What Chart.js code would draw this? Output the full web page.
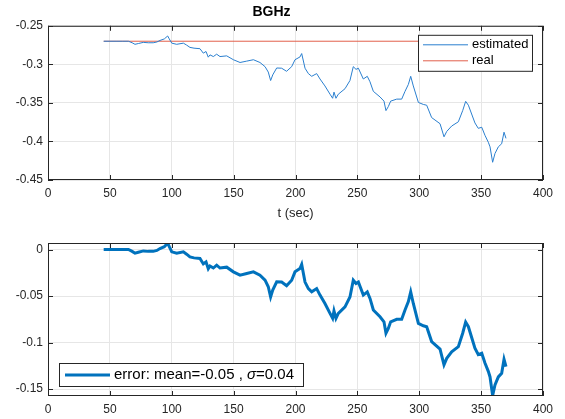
<!DOCTYPE html>
<html>
<head>
<meta charset="utf-8">
<script src="https://cdn.jsdelivr.net/npm/chart.js@4"></script>
<style>
  html, body { margin: 0; padding: 0; background: #fff; }
  #wrap1 { position: absolute; left: 0; top: 0; width: 565px; height: 225px; }
  #wrap2 { position: absolute; left: 0; top: 225px; width: 565px; height: 194px; }
</style>
</head>
<body>
<div id="wrap1"><canvas id="topChart"></canvas></div>
<div id="wrap2"><canvas id="errChart"></canvas></div>
<script>
// time stamps (sec) and the error curve
const tSec = [45, 50, 55, 60, 65, 68, 70.3, 73, 77, 81, 85, 88, 90.5, 94, 96.7, 98, 100, 104, 109.4, 112,
  114.7, 118, 122.8, 125.5, 127.7, 129.5, 130.9, 133.6, 136.3, 139, 144.4, 149.8, 155.2, 160.6, 166, 171.3, 175.4,
  178, 179.9, 181.6, 184.8, 188.8, 192.8, 196.9, 199.6, 203.6, 205, 207.7, 210.4, 213.1, 217.1, 219.8, 223.8,
  227.9, 230, 231.1, 232.7, 234.6, 240, 244, 246.7, 248.9, 250.8, 254.8, 258, 260.2, 262.9, 268.3, 271.5, 273.1,
  275, 276.9, 281.8, 285.8, 288.5, 291.2, 293.1, 295.2, 299.3, 303.3, 306, 310, 316.8, 320, 322.2, 326.2, 331.6,
  335.1, 337.5, 339.7, 345, 347.7, 350.5, 353.1, 355.8, 357.2, 359.3, 361.2, 363.9, 366.6, 368.5, 370.1];
const errVals = [0, 0, 0, 0, 0, -0.002, -0.004, -0.003, -0.0015, -0.002, -0.002, -0.001, 0.001, 0.003, 0.0068, 0.003,
  -0.0025, -0.004, -0.0025, -0.005, -0.008, -0.009, -0.0097, -0.0155, -0.0133, -0.0207, -0.0177, -0.0199, -0.0168,
  -0.0199, -0.019, -0.024, -0.0276, -0.0258, -0.024, -0.0276, -0.033, -0.04, -0.051, -0.0437, -0.0347, -0.035,
  -0.039, -0.033, -0.024, -0.0204, -0.016, -0.035, -0.042, -0.0455, -0.042, -0.049, -0.058, -0.0687, -0.074,
  -0.066, -0.074, -0.0687, -0.0616, -0.051, -0.033, -0.0365, -0.035, -0.049, -0.0455, -0.0526, -0.065, -0.0723,
  -0.0777, -0.09, -0.0848, -0.0777, -0.0751, -0.0751, -0.065, -0.056, -0.0455, -0.058, -0.0794, -0.082, -0.083,
  -0.099, -0.107, -0.124, -0.117, -0.11, -0.1045, -0.09, -0.078, -0.083, -0.106, -0.113, -0.1116, -0.122, -0.131,
  -0.137, -0.157, -0.1456, -0.137, -0.133, -0.118, -0.126];
const realValue = -0.27;
// estimated = real + error
const estVals = errVals.map(e => realValue + e);
const realT = [45, 370];
const realVals = [realValue, realValue];

const xTicks = [0, 50, 100, 150, 200, 250, 300, 350, 400];
const yTicksTop = [-0.45, -0.4, -0.35, -0.3, -0.25];
const yTicksErr = [-0.15, -0.1, -0.05, 0];

const FONT = "'Liberation Sans', Arial, sans-serif";
const AXIS = '#262626';

const pts = (xs, ys) => xs.map((x, i) => ({ x, y: ys[i] }));
const fmt = v => String(+v.toFixed(2));

// box, inward ticks and inside legend (MATLAB look)
const matlabBox = {
  id: 'matlabBox',
  afterDatasetsDraw(chart, args, opts) {
    const { ctx, chartArea: a, scales } = chart;
    ctx.save();
    ctx.strokeStyle = AXIS;
    ctx.lineWidth = 1;
    ctx.strokeRect(a.left + 0.5, a.top + 0.5, a.right - a.left - 1, a.bottom - a.top - 1);
    ctx.beginPath();
    const tl = 5;
    scales.x.ticks.forEach(t => {
      const px = Math.round(scales.x.getPixelForValue(t.value)) + 0.5;
      ctx.moveTo(px, a.bottom); ctx.lineTo(px, a.bottom - tl);
      ctx.moveTo(px, a.top); ctx.lineTo(px, a.top + tl);
    });
    scales.y.ticks.forEach(t => {
      const py = Math.round(scales.y.getPixelForValue(t.value)) + 0.5;
      ctx.moveTo(a.left, py); ctx.lineTo(a.left + tl, py);
      ctx.moveTo(a.right, py); ctx.lineTo(a.right - tl, py);
    });
    ctx.stroke();

    // legend
    const L = opts.legend;
    if (L) {
      const bx = L.corner === 'ne' ? a.right - L.dx - L.w : a.left + L.dx;
      const by = L.corner === 'ne' ? a.top + L.dy : a.bottom - L.dy - L.h;
      ctx.fillStyle = '#fff';
      ctx.fillRect(bx, by, L.w, L.h);
      ctx.strokeStyle = AXIS;
      ctx.strokeRect(bx + 0.5, by + 0.5, L.w - 1, L.h - 1);
      chart.data.datasets.forEach((ds, i) => {
        const ry = by + L.rowTop + i * L.rowH;
        ctx.beginPath();
        ctx.strokeStyle = ds.borderColor;
        ctx.lineWidth = ds.borderWidth;
        ctx.moveTo(bx + L.lineX0, ry); ctx.lineTo(bx + L.lineX1, ry);
        ctx.stroke();
        ctx.fillStyle = '#000';
        ctx.textBaseline = 'middle';
        let x = bx + L.textX;
        ds.label.split(/(σ)/).forEach(part => {
          if (!part) return;
          ctx.font = (part === 'σ' ? 'italic ' : '') + L.fontSize + 'px ' + FONT;
          ctx.fillText(part, x, ry);
          x += ctx.measureText(part).width;
        });
      });
    }
    ctx.restore();
  }
};

function xScale(withTitle) {
  return {
    type: 'linear', min: 0, max: 400,
    afterBuildTicks: s => { s.ticks = xTicks.map(v => ({ value: v })); },
    afterFit: s => { s.height = withTitle ? 45 : 23; },
    grid: { color: '#e6e6e6', drawTicks: false },
    border: { display: false },
    ticks: { color: AXIS, font: { family: FONT, size: 12 }, padding: 6, maxRotation: 0 },
    title: withTitle
      ? { display: true, text: 't (sec)', color: AXIS, font: { family: FONT, size: 13 }, padding: { top: 2, bottom: 4 } }
      : { display: false }
  };
}

function yScale(min, max, ticks) {
  return {
    type: 'linear', min, max,
    afterBuildTicks: s => { s.ticks = ticks.map(v => ({ value: v })); },
    afterFit: s => { s.width = 48; },
    grid: { color: '#e6e6e6', drawTicks: false },
    border: { display: false },
    ticks: { color: AXIS, font: { family: FONT, size: 12 }, padding: 5, callback: v => fmt(v) }
  };
}

new Chart(document.getElementById('topChart'), {
  type: 'line',
  data: {
    datasets: [
      { label: 'estimated', data: pts(tSec, estVals), borderColor: '#2a7fcf', borderWidth: 1, pointRadius: 0, tension: 0 },
      { label: 'real', data: pts(realT, realVals), borderColor: '#e2604c', borderWidth: 1, pointRadius: 0, tension: 0 }
    ]
  },
  options: {
    responsive: true, maintainAspectRatio: false, animation: false,
    layout: { padding: { left: 0, right: 22, top: 0, bottom: 0 } },
    scales: { x: xScale(true), y: yScale(-0.45, -0.25, yTicksTop) },
    plugins: {
      legend: { display: false }, tooltip: { enabled: false },
      title: { display: true, text: 'BGHz', color: '#000', font: { family: FONT, size: 14, weight: 'bold' }, padding: { top: 4, bottom: 5 } },
      matlabBox: { legend: { corner: 'ne', dx: 10, dy: 9, w: 115, h: 37, rowTop: 10, rowH: 16, lineX0: 5, lineX1: 50, textX: 54, fontSize: 13 } }
    }
  },
  plugins: [matlabBox]
});

new Chart(document.getElementById('errChart'), {
  type: 'line',
  data: {
    datasets: [
      { label: 'error: mean=-0.05 , σ=0.04', data: pts(tSec, errVals), borderColor: '#0072BD', borderWidth: 3, pointRadius: 0, tension: 0 }
    ]
  },
  options: {
    responsive: true, maintainAspectRatio: false, animation: false,
    layout: { padding: { left: 0, right: 22, top: 18, bottom: 0 } },
    scales: { x: xScale(false), y: yScale(-0.1575, 0.007, yTicksErr) },
    plugins: {
      legend: { display: false }, tooltip: { enabled: false },
      matlabBox: { legend: { corner: 'sw', dx: 11, dy: 9, w: 245, h: 24, rowTop: 12, rowH: 16, lineX0: 6, lineX1: 51, textX: 55, fontSize: 15 } }
    }
  },
  plugins: [matlabBox]
});
</script>
</body>
</html>
